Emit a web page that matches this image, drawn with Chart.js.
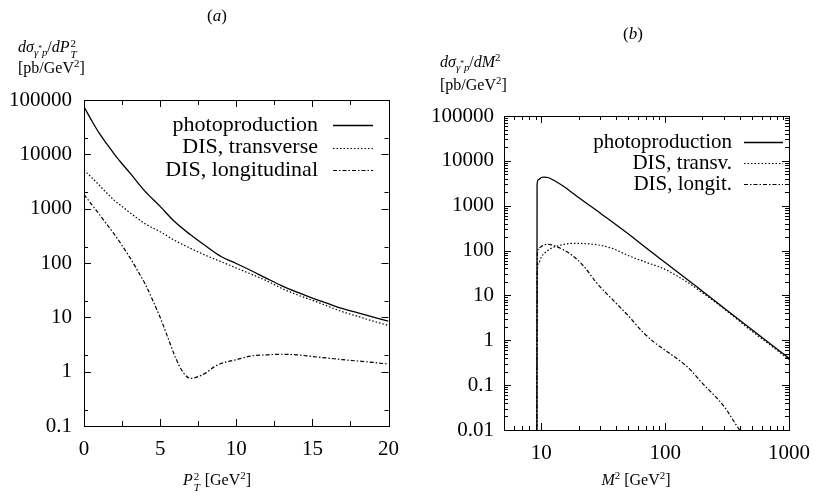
<!DOCTYPE html>
<html>
<head>
<meta charset="utf-8">
<script src="https://cdn.jsdelivr.net/npm/chart.js@4.4.1/dist/chart.umd.min.js"></script>
<style>
  body { margin: 0; background: #fff; }
  #page { position: relative; width: 821px; height: 495px; overflow: hidden; font-family: "Liberation Serif", "DejaVu Serif", serif; color: #000; }
  canvas { position: absolute; top: 0; }
  .lbl { position: absolute; white-space: nowrap; font-size: 16px; line-height: 1; }
  .c { transform: translate(-50%, -50%); }
  .l { transform: translateY(-50%); }
  .ss { display: inline-block; position: relative; width: 8px; height: 0; vertical-align: baseline; }
  .ss > * { position: absolute; left: 1px; font-size: 11px; line-height: 1; }
  .ss .up { top: -14px; }
  .ss .dn { top: -3px; }
  sub, sup { font-size: 0.68em; line-height: 0; }
</style>
</head>
<body>
<div id="page">
  <canvas id="chartA" width="410" height="495" style="left:0"></canvas>
  <canvas id="chartB" width="411" height="495" style="left:410px"></canvas>

  <div class="lbl c" style="left:217px; top:15px; font-size:17px">(<i>a</i>)</div>
  <div class="lbl l" style="left:18px; top:47px"><i>dσ</i><sub><i>γ</i><sup>*</sup><i>p</i></sub>/<i>dP</i><span class="ss"><span class="up">2</span><i class="dn">T</i></span></div>
  <div class="lbl l" style="left:18px; top:68px">[pb/GeV<sup>2</sup>]</div>
  <div class="lbl c" style="left:217px; top:480px"><i>P</i><span class="ss"><span class="up">2</span><i class="dn">T</i></span> [GeV<sup>2</sup>]</div>

  <div class="lbl c" style="left:633px; top:33px; font-size:17px">(<i>b</i>)</div>
  <div class="lbl l" style="left:440px; top:62px"><i>dσ</i><sub><i>γ</i><sup>*</sup><i>p</i></sub>/<i>dM</i><sup>2</sup></div>
  <div class="lbl l" style="left:440px; top:85px">[pb/GeV<sup>2</sup>]</div>
  <div class="lbl c" style="left:636px; top:480px"><i>M</i><sup>2</sup> [GeV<sup>2</sup>]</div>
</div>
<script>
// panel (a): P_T^2 spectrum
const ptA = [0, 0.5, 1, 1.5, 2, 2.5, 3, 4, 5, 6, 7, 8, 9, 10, 11, 12, 13, 14, 15, 16, 17, 18, 19, 20];
const photoA = [75000, 42000, 24500, 15500, 10000, 6700, 4600, 2100, 1100, 560, 330, 205, 132, 98, 72, 52, 38, 29, 22.6, 18, 14.4, 12.1, 10.1, 8.5];
const transA = [5100, 3750, 2700, 1940, 1410, 1100, 850, 530, 376, 257, 186, 138, 106, 81, 62, 47, 34, 26, 20.6, 16.1, 12.6, 10.4, 8.5, 7.1];
const ptLongA = [0, 0.5, 1, 1.5, 2, 2.5, 3, 3.5, 4, 4.5, 5, 5.5, 6, 6.5, 7, 7.5, 8, 8.5, 9, 10, 11, 12, 13, 14, 15, 16, 17, 18, 19, 20];
const longA = [1820, 1200, 790, 515, 335, 210, 128, 74, 42, 21, 10, 4.3, 1.85, 0.98, 0.75, 0.81, 0.95, 1.2, 1.41, 1.66, 1.95, 2.04, 2.09, 2.04, 1.9, 1.78, 1.66, 1.57, 1.48, 1.38];

// panel (b): M^2 spectrum
const m2Photo = [9.2, 9.25, 9.5, 10, 10.5, 11.5, 13, 15, 20, 30, 50, 70, 100, 150, 200, 300, 500, 700, 1000];
const photoB = [0.001, 3000, 3800, 4250, 4350, 4200, 3500, 2750, 1520, 680, 240, 115, 54, 23, 12.4, 5.2, 1.74, 0.85, 0.40];
const m2Trans = [9.2, 9.3, 9.6, 10, 11, 12, 14, 18, 22, 28, 38, 50, 70, 100, 150, 200, 300, 500, 700, 1000];
const transB = [0.001, 40, 55, 72, 95, 112, 130, 145, 143, 135, 110, 78, 55, 38, 20, 11.5, 5, 1.6, 0.8, 0.37];
const m2Long = [9.2, 9.3, 9.6, 10.5, 11.5, 13, 15, 18, 22, 28, 40, 51, 65, 83, 100, 150, 200, 300, 400, 500];
const longB = [0.001, 85, 115, 135, 138, 125, 105, 76, 45, 19, 6.8, 3.4, 1.6, 0.87, 0.6, 0.26, 0.11, 0.033, 0.01, 0.005];

const labelsA = ['photoproduction', 'DIS, transverse', 'DIS, longitudinal'];
const labelsB = ['photoproduction', 'DIS, transv.', 'DIS, longit.'];

// tick values
const xTicksA = [0, 5, 10, 15, 20];
const xMinorA = [2.5, 7.5, 12.5, 17.5];
const yTicksA = [0.1, 1, 10, 100, 1000, 10000, 100000];
const yMinorA = [0.2, 2, 20, 200, 2000, 20000];
const xTicksB = [10, 100, 1000];
const yTicksB = [0.01, 0.1, 1, 10, 100, 1000, 10000, 100000];
const xMinorB = [5, 6, 7, 8, 9];
[10, 100].forEach(d => { for (let k = 2; k <= 9; k++) xMinorB.push(k * d); });
const yMinorB = [];
[0.01, 0.1, 1, 10, 100, 1000, 10000].forEach(d => { for (let k = 2; k <= 9; k++) yMinorB.push(+(k * d).toPrecision(3)); });

const FONT = '"Liberation Serif", "DejaVu Serif", serif';

function pts(xs, ys) {
    return xs.map((x, i) => ({ x: x, y: ys[i] }));
}

const styles = [
    { borderWidth: 1.3, borderDash: [] },
    { borderWidth: 1.2, borderDash: [1.5, 2] },
    { borderWidth: 1.2, borderDash: [4, 2, 1.5, 2] }
];

function makeSets(labels, series) {
    return series.map((s, i) => ({
        label: labels[i],
        data: pts(s[0], s[1]),
        borderColor: '#000',
        borderWidth: styles[i].borderWidth,
        borderDash: styles[i].borderDash,
        pointRadius: 0,
        fill: false,
        cubicInterpolationMode: 'monotone',
        clip: 0
    }));
}

// box around the plot with inward tick marks on all four sides
const frame = {
    id: 'frame',
    afterDatasetsDraw(chart, args, o) {
        const { ctx, chartArea: a, scales } = chart;
        const xs = scales.x, ys = scales.y;
        ctx.save();
        ctx.strokeStyle = '#000';
        ctx.lineWidth = 1;
        ctx.setLineDash([]);
        ctx.beginPath();
        const tx = (v, len) => {
            const p = Math.round(xs.getPixelForValue(v)) + 0.5;
            ctx.moveTo(p, a.bottom); ctx.lineTo(p, a.bottom - len);
            ctx.moveTo(p, a.top); ctx.lineTo(p, a.top + len);
        };
        const ty = (v, len) => {
            const p = Math.round(ys.getPixelForValue(v)) + 0.5;
            ctx.moveTo(a.left, p); ctx.lineTo(a.left + len, p);
            ctx.moveTo(a.right, p); ctx.lineTo(a.right - len, p);
        };
        o.xMajor.forEach(v => tx(v, o.major));
        o.xMinor.forEach(v => tx(v, o.minorX));
        o.yMajor.forEach(v => ty(v, o.major));
        o.yMinor.forEach(v => ty(v, o.minor));
        ctx.stroke();
        ctx.strokeRect(Math.round(a.left) + 0.5, Math.round(a.top) + 0.5,
            Math.round(a.right - a.left), Math.round(a.bottom - a.top));
        ctx.restore();
    }
};

// gnuplot-like key: text right aligned, sample line to its right
const keyBox = {
    id: 'keyBox',
    afterDraw(chart, args, o) {
        const ctx = chart.ctx;
        ctx.save();
        ctx.font = o.size + 'px ' + FONT;
        ctx.fillStyle = '#000';
        ctx.textAlign = 'right';
        ctx.textBaseline = 'middle';
        chart.data.datasets.forEach((ds, i) => {
            const y = o.y + i * o.dy;
            ctx.fillText(ds.label, o.x, y);
            ctx.strokeStyle = '#000';
            ctx.lineWidth = ds.borderWidth;
            ctx.setLineDash(ds.borderDash);
            ctx.beginPath();
            ctx.moveTo(o.x1, Math.round(y) + 0.5);
            ctx.lineTo(o.x2, Math.round(y) + 0.5);
            ctx.stroke();
        });
        ctx.restore();
    }
};

function tickFont(size) {
    return { family: FONT, size: size };
}

new Chart(document.getElementById('chartA'), {
    type: 'line',
    data: {
        datasets: makeSets(labelsA, [[ptA, photoA], [ptA, transA], [ptLongA, longA]])
    },
    options: {
        responsive: false,
        animation: false,
        layout: { padding: { top: 100, right: 19, bottom: 29, left: 0 } },
        plugins: {
            legend: { display: false },
            tooltip: { enabled: false },
            frame: { xMajor: xTicksA, xMinor: xMinorA, yMajor: yTicksA, yMinor: yMinorA, major: 7, minor: 4, minorX: 5 },
            keyBox: { x: 318, y: 125, dy: 22.5, x1: 333, x2: 373, size: 22 }
        },
        scales: {
            x: {
                type: 'linear', min: 0, max: 20,
                afterBuildTicks: s => { s.ticks = xTicksA.map(v => ({ value: v })); },
                afterFit: s => { s.height = 40; },
                grid: { display: false, drawTicks: false },
                border: { display: false },
                ticks: { color: '#000', font: tickFont(21), padding: 11, maxRotation: 0, autoSkip: false }
            },
            y: {
                type: 'logarithmic', min: 0.1, max: 100000,
                afterBuildTicks: s => { s.ticks = yTicksA.map(v => ({ value: v })); },
                afterFit: s => { s.width = 84; },
                grid: { display: false, drawTicks: false },
                border: { display: false },
                ticks: { color: '#000', font: tickFont(21), padding: 12, autoSkip: false, callback: v => String(v) }
            }
        }
    },
    plugins: [frame, keyBox]
});

new Chart(document.getElementById('chartB'), {
    type: 'line',
    data: {
        datasets: makeSets(labelsB, [[m2Photo, photoB], [m2Trans, transB], [m2Long, longB]])
    },
    options: {
        responsive: false,
        animation: false,
        layout: { padding: { top: 116, right: 23, bottom: 25, left: 0 } },
        plugins: {
            legend: { display: false },
            tooltip: { enabled: false },
            frame: { xMajor: xTicksB, xMinor: xMinorB, yMajor: yTicksB, yMinor: yMinorB, major: 7, minor: 4, minorX: 4 },
            keyBox: { x: 322, y: 142, dy: 21, x1: 334, x2: 373, size: 21 }
        },
        scales: {
            x: {
                type: 'logarithmic', min: 5, max: 1000,
                afterBuildTicks: s => { s.ticks = xTicksB.map(v => ({ value: v })); },
                afterFit: s => { s.height = 40; },
                grid: { display: false, drawTicks: false },
                border: { display: false },
                ticks: { color: '#000', font: tickFont(21), padding: 11, maxRotation: 0, autoSkip: false, callback: v => String(v) }
            },
            y: {
                type: 'logarithmic', min: 0.01, max: 100000,
                afterBuildTicks: s => { s.ticks = yTicksB.map(v => ({ value: v })); },
                afterFit: s => { s.width = 94; },
                grid: { display: false, drawTicks: false },
                border: { display: false },
                ticks: { color: '#000', font: tickFont(21), padding: 10, autoSkip: false, callback: v => String(v) }
            }
        }
    },
    plugins: [frame, keyBox]
});
</script>
</body>
</html>
